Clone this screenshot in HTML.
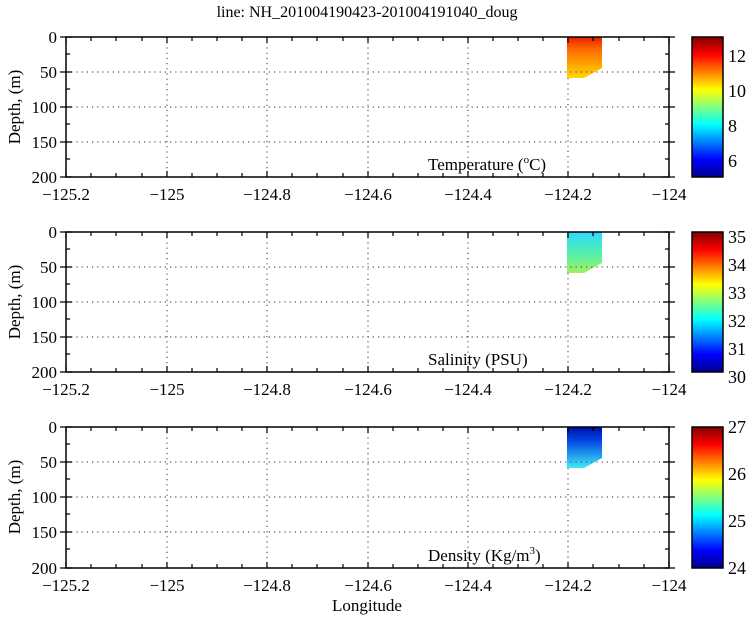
<!DOCTYPE html>
<html><head><style>
body{margin:0;background:#fff;}
svg text{font-family:"Liberation Serif",serif;fill:#000;}
</style></head><body>
<svg width="750" height="618" xmlns="http://www.w3.org/2000/svg">
<defs>
<linearGradient id="jet" x1="0" y1="1" x2="0" y2="0">
<stop offset="0" stop-color="#00008f"/>
<stop offset="0.125" stop-color="#0000ff"/>
<stop offset="0.375" stop-color="#00ffff"/>
<stop offset="0.625" stop-color="#ffff00"/>
<stop offset="0.875" stop-color="#ff0000"/>
<stop offset="1" stop-color="#800000"/>
</linearGradient>
<linearGradient id="tg" x1="0" y1="0" x2="0" y2="1">
<stop offset="0" stop-color="#e82000"/><stop offset="0.3" stop-color="#ff6a00"/><stop offset="1" stop-color="#ffd800"/>
</linearGradient>
<linearGradient id="sg" x1="0" y1="0" x2="0" y2="1">
<stop offset="0" stop-color="#30d8ff"/><stop offset="0.5" stop-color="#50f0b0"/><stop offset="1" stop-color="#a0f060"/>
</linearGradient>
<linearGradient id="dg" x1="0" y1="0" x2="0" y2="1">
<stop offset="0" stop-color="#0010a0"/><stop offset="0.3" stop-color="#0040e0"/><stop offset="1" stop-color="#40e8f8"/>
</linearGradient>
</defs>
<text x="367" y="17" font-size="16" text-anchor="middle">line: NH_201004190423-201004191040_doug</text>

<g>
<rect x="567" y="37" width="35" height="41" fill="url(#tg)"/>
<polygon points="567,78 584,78 602,68 602,78" fill="#fff"/>
</g>
<g>
<rect x="567" y="232" width="35" height="41" fill="url(#sg)"/>
<polygon points="567,273 584,273 602,263 602,273" fill="#fff"/>
</g>
<g>
<rect x="567" y="427" width="35" height="41" fill="url(#dg)"/>
<polygon points="567,468 584,468 602,458 602,468" fill="#fff"/>
</g>

<g stroke="#555" stroke-width="1.2" stroke-dasharray="1.2,4">
<line x1="167" y1="37" x2="167" y2="177"/><line x1="267" y1="37" x2="267" y2="177"/><line x1="368" y1="37" x2="368" y2="177"/><line x1="468" y1="37" x2="468" y2="177"/><line x1="568" y1="78" x2="568" y2="177"/>
<line x1="66" y1="72" x2="669" y2="72"/><line x1="66" y1="107" x2="669" y2="107"/><line x1="66" y1="142" x2="669" y2="142"/>
<line x1="167" y1="232" x2="167" y2="372"/><line x1="267" y1="232" x2="267" y2="372"/><line x1="368" y1="232" x2="368" y2="372"/><line x1="468" y1="232" x2="468" y2="372"/><line x1="568" y1="273" x2="568" y2="372"/>
<line x1="66" y1="267" x2="669" y2="267"/><line x1="66" y1="302" x2="669" y2="302"/><line x1="66" y1="337" x2="669" y2="337"/>
<line x1="167" y1="427" x2="167" y2="568"/><line x1="267" y1="427" x2="267" y2="568"/><line x1="368" y1="427" x2="368" y2="568"/><line x1="468" y1="427" x2="468" y2="568"/><line x1="568" y1="468" x2="568" y2="568"/>
<line x1="66" y1="462" x2="669" y2="462"/><line x1="66" y1="497" x2="669" y2="497"/><line x1="66" y1="532" x2="669" y2="532"/>
</g>

<g stroke="#000" stroke-width="1.5" fill="none">
<rect x="66" y="37" width="603" height="140"/>
<rect x="66" y="232" width="603" height="140"/>
<rect x="66" y="427" width="603" height="141"/>
<rect x="692" y="37" width="31" height="140" fill="url(#jet)"/>
<rect x="692" y="232" width="31" height="140" fill="url(#jet)"/>
<rect x="692" y="427" width="31" height="141" fill="url(#jet)"/>
</g>

<g stroke="#000" stroke-width="1.2">
<path d="M66,37v6M91,37v4M116,37v4M142,37v4M167,37v6M192,37v4M217,37v4M242,37v4M267,37v6M292,37v4M317,37v4M343,37v4M368,37v6M393,37v4M418,37v4M443,37v4M468,37v6M493,37v4M518,37v4M543,37v4M568,37v6M593,37v4M619,37v4M644,37v4M669,37v6
M66,177v-6M91,177v-4M116,177v-4M142,177v-4M167,177v-6M192,177v-4M217,177v-4M242,177v-4M267,177v-6M292,177v-4M317,177v-4M343,177v-4M368,177v-6M393,177v-4M418,177v-4M443,177v-4M468,177v-6M493,177v-4M518,177v-4M543,177v-4M568,177v-6M593,177v-4M619,177v-4M644,177v-4M669,177v-6
M60,37h12M60,72h12M60,107h12M60,142h12M60,177h12M66,54h4M66,89h4M66,124h4M66,159h4
M663,37h12M663,72h12M663,107h12M663,142h12M663,177h12M669,54h-4M669,89h-4M669,124h-4M669,159h-4"/>
<path transform="translate(0,195)" d="M66,37v6M91,37v4M116,37v4M142,37v4M167,37v6M192,37v4M217,37v4M242,37v4M267,37v6M292,37v4M317,37v4M343,37v4M368,37v6M393,37v4M418,37v4M443,37v4M468,37v6M493,37v4M518,37v4M543,37v4M568,37v6M593,37v4M619,37v4M644,37v4M669,37v6
M66,177v-6M91,177v-4M116,177v-4M142,177v-4M167,177v-6M192,177v-4M217,177v-4M242,177v-4M267,177v-6M292,177v-4M317,177v-4M343,177v-4M368,177v-6M393,177v-4M418,177v-4M443,177v-4M468,177v-6M493,177v-4M518,177v-4M543,177v-4M568,177v-6M593,177v-4M619,177v-4M644,177v-4M669,177v-6
M60,37h12M60,72h12M60,107h12M60,142h12M60,177h12M66,54h4M66,89h4M66,124h4M66,159h4
M663,37h12M663,72h12M663,107h12M663,142h12M663,177h12M669,54h-4M669,89h-4M669,124h-4M669,159h-4"/>
<path transform="translate(0,390)" d="M66,37v6M91,37v4M116,37v4M142,37v4M167,37v6M192,37v4M217,37v4M242,37v4M267,37v6M292,37v4M317,37v4M343,37v4M368,37v6M393,37v4M418,37v4M443,37v4M468,37v6M493,37v4M518,37v4M543,37v4M568,37v6M593,37v4M619,37v4M644,37v4M669,37v6
M66,178v-6M91,178v-4M116,178v-4M142,178v-4M167,178v-6M192,178v-4M217,178v-4M242,178v-4M267,178v-6M292,178v-4M317,178v-4M343,178v-4M368,178v-6M393,178v-4M418,178v-4M443,178v-4M468,178v-6M493,178v-4M518,178v-4M543,178v-4M568,178v-6M593,178v-4M619,178v-4M644,178v-4M669,178v-6
M60,37h12M60,72h12M60,107h12M60,142h12M60,178h12M66,54h4M66,89h4M66,124h4M66,159h4
M663,37h12M663,72h12M663,107h12M663,142h12M663,178h12M669,54h-4M669,89h-4M669,124h-4M669,159h-4"/>
</g>

<g font-size="17">
<g text-anchor="end">
<text x="57" y="43">0</text><text x="57" y="78">50</text><text x="57" y="113">100</text><text x="57" y="148">150</text><text x="57" y="183">200</text>
<text x="57" y="238">0</text><text x="57" y="273">50</text><text x="57" y="308">100</text><text x="57" y="343">150</text><text x="57" y="378">200</text>
<text x="57" y="433">0</text><text x="57" y="468">50</text><text x="57" y="503">100</text><text x="57" y="538">150</text><text x="57" y="574">200</text>
</g>
<g text-anchor="middle">
<text x="66" y="200">−125.2</text><text x="167" y="200">−125</text><text x="267" y="200">−124.8</text><text x="368" y="200">−124.6</text><text x="468" y="200">−124.4</text><text x="568" y="200">−124.2</text><text x="669" y="200">−124</text>
<text x="66" y="395">−125.2</text><text x="167" y="395">−125</text><text x="267" y="395">−124.8</text><text x="368" y="395">−124.6</text><text x="468" y="395">−124.4</text><text x="568" y="395">−124.2</text><text x="669" y="395">−124</text>
<text x="66" y="591">−125.2</text><text x="167" y="591">−125</text><text x="267" y="591">−124.8</text><text x="368" y="591">−124.6</text><text x="468" y="591">−124.4</text><text x="568" y="591">−124.2</text><text x="669" y="591">−124</text>
<text x="367" y="611">Longitude</text>
</g>
<text transform="translate(20,107) rotate(-90)" text-anchor="middle">Depth, (m)</text>
<text transform="translate(20,302) rotate(-90)" text-anchor="middle">Depth, (m)</text>
<text transform="translate(20,497) rotate(-90)" text-anchor="middle">Depth, (m)</text>
<text x="428" y="170">Temperature (<tspan font-size="11" dy="-7">o</tspan><tspan dy="7">C)</tspan></text>
<text x="428" y="365">Salinity (PSU)</text>
<text x="428" y="561">Density (Kg/m<tspan font-size="11" dy="-7">3</tspan><tspan dy="7">)</tspan></text>
<g font-size="18">
<text x="728" y="62">12</text><text x="728" y="97">10</text><text x="728" y="132">8</text><text x="728" y="167">6</text>
<text x="728" y="243">35</text><text x="728" y="271">34</text><text x="728" y="299">33</text><text x="728" y="327">32</text><text x="728" y="355">31</text><text x="728" y="383">30</text>
<text x="728" y="433">27</text><text x="728" y="480">26</text><text x="728" y="527">25</text><text x="728" y="574">24</text>
</g>
</g>
</svg>
</body></html>
